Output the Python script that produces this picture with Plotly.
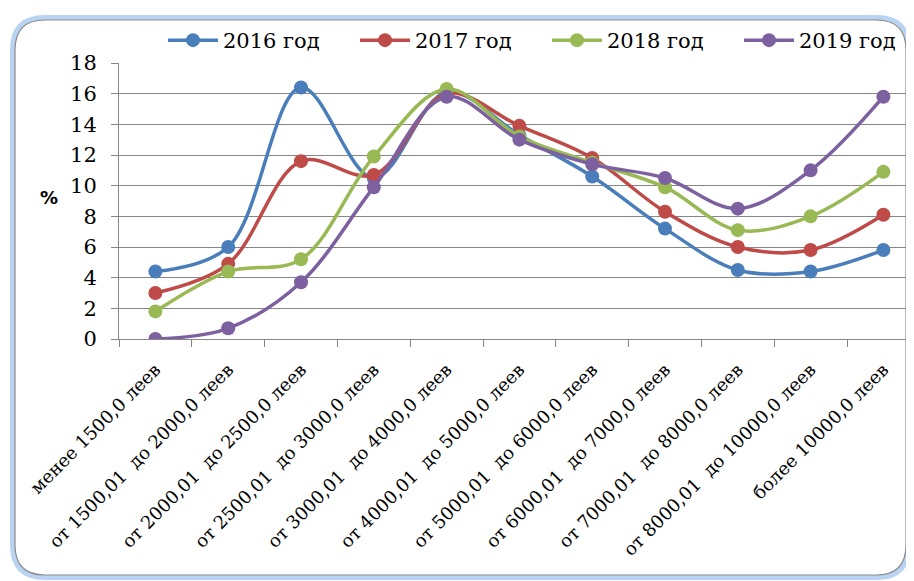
"""Income-group distribution by year, smoothed lines with markers."""

import plotly.graph_objects as go

categories = [
    "менее 1500,0 леев",
    "от 1500,01  до 2000,0 леев",
    "от 2000,01  до 2500,0 леев",
    "от 2500,01  до 3000,0 леев",
    "от 3000,01  до 4000,0 леев",
    "от 4000,01  до 5000,0 леев",
    "от 5000,01  до 6000,0 леев",
    "от 6000,01  до 7000,0 леев",
    "от 7000,01  до 8000,0 леев",
    "от 8000,01  до 10000,0 леев",
    "более 10000,0 леев",
]
y2016 = [4.4, 6.0, 16.4, 10.5, 16.1, 13.3, 10.6, 7.2, 4.5, 4.4, 5.8]
y2017 = [3.0, 4.9, 11.6, 10.7, 16.0, 13.9, 11.8, 8.3, 6.0, 5.8, 8.1]
y2018 = [1.8, 4.4, 5.2, 11.9, 16.3, 13.2, 11.5, 9.9, 7.1, 8.0, 10.9]
y2019 = [0.0, 0.7, 3.7, 9.9, 15.8, 13.0, 11.4, 10.5, 8.5, 11.0, 15.8]
series_names = ["2016 год", "2017 год", "2018 год", "2019 год"]

W, H = 914, 581
OFF = 8  # page body margin shifts the figure by 8px
L, R, T, B = 119 - OFF, W, 63 - OFF, 339 - OFF  # plot area, figure pixels


def px(x):
    # screen pixel -> paper coordinate
    return (x - OFF - L) / (R - L)


def py(y):
    return (B - (y - OFF)) / (B - T)


def rounded(x0, y0, x1, y1, r):
    # rounded rectangle path in paper coords from screen pixel box
    pts = [
        f"M {px(x0 + r)} {py(y0)}",
        f"L {px(x1 - r)} {py(y0)}",
        f"Q {px(x1)} {py(y0)} {px(x1)} {py(y0 + r)}",
        f"L {px(x1)} {py(y1 - r)}",
        f"Q {px(x1)} {py(y1)} {px(x1 - r)} {py(y1)}",
        f"L {px(x0 + r)} {py(y1)}",
        f"Q {px(x0)} {py(y1)} {px(x0)} {py(y1 - r)}",
        f"L {px(x0)} {py(y0 + r)}",
        f"Q {px(x0)} {py(y0)} {px(x0 + r)} {py(y0)}",
        "Z",
    ]
    return " ".join(pts)


colors = ["#4a7ebb", "#be4b48", "#98b954", "#7d60a0"]
fig = go.Figure()
for name, vals, c in zip(series_names, [y2016, y2017, y2018, y2019], colors):
    fig.add_trace(
        go.Scatter(
            x=categories,
            y=vals,
            name=name,
            mode="lines+markers",
            line=dict(color=c, width=3.5, shape="spline", smoothing=1.0),
            marker=dict(color=c, size=14),
        )
    )

fig.add_shape(
    type="path", xref="paper", yref="paper", layer="below",
    path=rounded(13, 18, 908, 577, 32),
    line=dict(color="#b9d3f2", width=6),
)
fig.add_shape(
    type="path", xref="paper", yref="paper", layer="below",
    path=rounded(15, 20, 906, 575, 30),
    line=dict(color="#8c8c8c", width=1.2),
    fillcolor="white",
)

fig.add_annotation(
    text="<b>%</b>", xref="paper", yref="paper", x=px(38), y=py(197),
    showarrow=False, font=dict(family="DejaVu Sans", size=18, color="black"),
)

fig.update_xaxes(
    range=[-0.5, -0.5 + (R - L) / 72.8],
    automargin=False,
    tickangle=-45,
    ticks="outside",
    tickson="boundaries",
    ticklen=7,
    tickcolor="#868686",
    showline=True,
    linecolor="#868686",
    showgrid=False,
    ticklabelstandoff=12,
    tickfont=dict(family="DejaVu Serif", size=18, color="black"),
)
fig.update_yaxes(
    range=[0, 18],
    automargin=False,
    dtick=2,
    ticks="outside",
    ticklen=7,
    tickcolor="#868686",
    showline=True,
    linecolor="#868686",
    gridcolor="#868686",
    gridwidth=1,
    zeroline=False,
    ticklabelstandoff=10,
    tickfont=dict(family="DejaVu Serif", size=21, color="black"),
)
fig.update_layout(
    width=W,
    height=H,
    margin=dict(l=L, r=W - R, t=T, b=H - B, autoexpand=False),
    paper_bgcolor="white",
    plot_bgcolor="rgba(0,0,0,0)",
    legend=dict(
        orientation="h",
        x=px(163),
        y=py(20),
        xanchor="left",
        yanchor="top",
        itemwidth=50,
        entrywidth=127,
        font=dict(family="DejaVu Serif", size=21, color="black"),
        bgcolor="rgba(0,0,0,0)",
    ),
)
fig.write_html("out.html")
